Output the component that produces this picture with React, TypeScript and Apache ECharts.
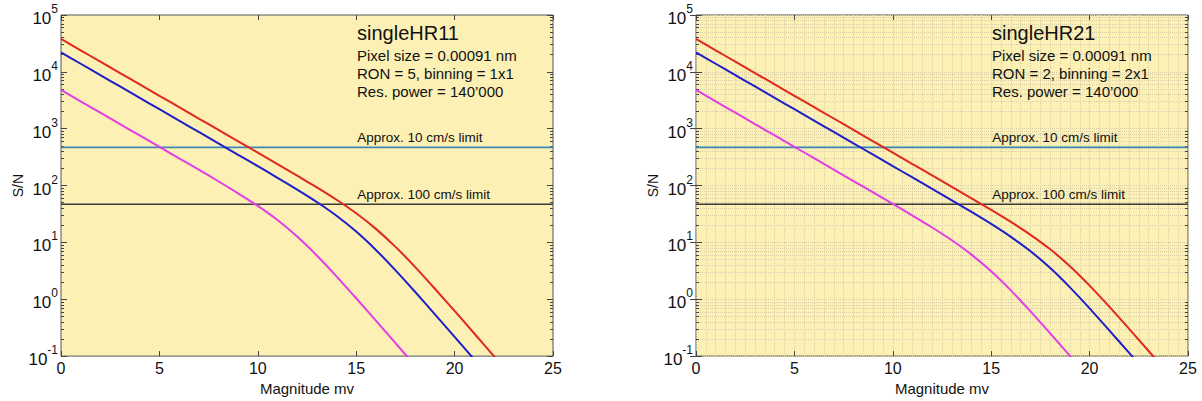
import React, { useEffect, useRef } from "react";
import * as echarts from "echarts";

// Magnitude grid (x values) used for every curve
const magnitudes = [0, 1, 2, 3, 4, 5, 6, 7, 8, 9, 10, 11, 12, 13, 14, 15, 16, 17, 18, 19, 20, 21, 22, 23, 24];

// singleHR11 (left panel) S/N values
const hr11Red = [37900, 23900, 15100, 9530, 6010, 3795, 2394, 1510, 953, 601, 379, 238, 149, 92.7, 56.2, 32.5, 17.3, 8.34, 3.68, 1.53, 0.623, 0.25, 0.0999, 0.0398];
const hr11Blue = [22000, 13880, 8760, 5530, 3490, 2200, 1388, 876, 552, 348, 219, 137, 84.9, 51.3, 29.4, 15.5, 7.37, 3.22, 1.34, 0.543, 0.218, 0.0869, 0.0346];
const hr11Magenta = [4800, 3030, 1909, 1204, 760, 479, 302, 190, 119, 73.1, 43.8, 24.7, 12.7, 5.89, 2.53, 1.04, 0.422, 0.169, 0.0674];

// singleHR21 (right panel)
const hr21Red = [37900, 23900, 15100, 9530, 6010, 3795, 2394, 1511, 953, 601, 379, 239, 151, 95.0, 59.7, 37.3, 22.9, 13.6, 7.55, 3.81, 1.74, 0.742, 0.304, 0.123, 0.0491];
const hr21Blue = [22000, 13880, 8760, 5530, 3490, 2200, 1388, 876, 553, 349, 220, 139, 87.3, 54.9, 34.3, 21.1, 12.5, 6.98, 3.54, 1.62, 0.693, 0.284, 0.115, 0.0459];
const hr21Magenta = [4800, 3030, 1910, 1205, 760, 480, 303, 191, 120, 75.8, 47.6, 29.7, 18.3, 10.9, 6.1, 3.1, 1.43, 0.611, 0.251, 0.101, 0.0405];

// Horizontal precision limits
const limitLevels = [470, 47];
const limitLabels = ["Approx. 10 cm/s limit", "Approx. 100 cm/s limit"];
const limitColors = ["#3f87b5", "#3a3a3a"];
const limitLabelMag = 15.05;
const magRange = [0, 25];

// Panel annotations
const panelTitles = ["singleHR11", "singleHR21"];
const panelNotes = [
  ["Pixel size = 0.00091 nm", "RON = 5, binning = 1x1", "Res. power = 140\u2019000"],
  ["Pixel size = 0.00091 nm", "RON = 2, binning = 2x1", "Res. power = 140\u2019000"],
];

// Axis tick values
const majorTicks = [0.1, 1, 10, 100, 1000, 10000, 100000];
const minorTicks: number[] = [];
for (let e = -1; e < 5; e++) {
  for (let d = 2; d <= 9; d++) minorTicks.push(Number((d * Math.pow(10, e)).toPrecision(3)));
}
const allTicks = [...majorTicks, ...minorTicks].sort((a, b) => a - b);

const FONT = "'Liberation Sans', Arial, Helvetica, sans-serif";
const TICK = "#444";
const BG = "#FCF0B4";
const GRID_DOT = "#d9d0a9";

const grids = [
  { left: 61, top: 15, width: 492, height: 349 },
  { left: 696, top: 15, width: 492, height: 349 },
];
const textX = [357, 992];

function pairs(ys: number[]) {
  return ys.map((y, i) => [magnitudes[i], y]);
}

function yFormatter(v: number) {
  const e = Math.round(Math.log10(v));
  return `{b|10}{s|${e}}`;
}

function makeYAxes(gridIndex: number) {
  const base: any = {
    type: "log",
    logBase: 10,
    min: 0.1,
    max: 100000,
    gridIndex,
    axisLine: { show: false },
    splitLine: { show: false },
    axisLabel: { show: false },
  };
  return [
    {
      ...base,
      position: "left",
      axisTick: { inside: true, length: 6, lineStyle: { color: TICK }, customValues: majorTicks },
      axisLabel: {
        show: true,
        customValues: majorTicks,
        formatter: yFormatter,
        margin: 3,
        fontSize: 17,
        fontFamily: FONT,
        color: "#111",
        rich: {
          b: { fontSize: 17, fontFamily: FONT, color: "#111", lineHeight: 24, verticalAlign: "bottom" },
          s: { fontSize: 12, fontFamily: FONT, color: "#111", lineHeight: 13, verticalAlign: "top" },
        },
      },
      name: "S/N",
      nameLocation: "middle",
      nameGap: 36,
      nameTextStyle: { fontSize: 14, fontFamily: FONT, color: "#111" },
    },
    {
      ...base,
      position: "left",
      axisTick: { inside: true, length: 3, lineStyle: { color: TICK }, customValues: minorTicks },
    },
    {
      ...base,
      position: "right",
      axisTick: { inside: true, length: 6, lineStyle: { color: TICK }, customValues: majorTicks },
    },
    {
      ...base,
      position: "right",
      axisTick: { inside: true, length: 3, lineStyle: { color: TICK }, customValues: minorTicks },
    },
  ];
}

function makeXAxes(gridIndex: number) {
  return [
    {
      type: "value",
      gridIndex,
      min: magRange[0],
      max: magRange[1],
      interval: 5,
      position: "bottom",
      axisLine: { show: false },
      axisTick: { inside: true, length: 5, lineStyle: { color: TICK } },
      axisLabel: { fontSize: 16, fontFamily: FONT, color: "#111", margin: 4 },
      splitLine: { show: false },
      name: "Magnitude mv",
      nameLocation: "middle",
      nameGap: 20,
      nameTextStyle: { fontSize: 15, fontFamily: FONT, color: "#111" },
    },
    {
      type: "value",
      gridIndex,
      min: magRange[0],
      max: magRange[1],
      interval: 5,
      position: "top",
      axisLine: { show: false },
      axisTick: { inside: true, length: 5, lineStyle: { color: TICK } },
      axisLabel: { show: false },
      splitLine: { show: false },
    },
  ];
}

function curve(name: string, data: number[], color: string, xIdx: number, yIdx: number) {
  return {
    type: "line",
    name,
    xAxisIndex: xIdx,
    yAxisIndex: yIdx,
    data: pairs(data),
    showSymbol: false,
    symbol: "none",
    smooth: 0.2,
    clip: true,
    lineStyle: { color, width: 2 },
    z: 5,
  };
}

function limitSeries(i: number, xIdx: number, yIdx: number) {
  return {
    type: "line",
    name: limitLabels[i],
    xAxisIndex: xIdx,
    yAxisIndex: yIdx,
    data: [
      [magRange[0], limitLevels[i]],
      [magRange[1], limitLevels[i]],
    ],
    showSymbol: false,
    symbol: "none",
    lineStyle: { color: limitColors[i], width: 1.6 },
    z: 4,
    markPoint: {
      symbol: "circle",
      symbolSize: 0,
      data: [{ coord: [limitLabelMag, limitLevels[i]] }],
      label: {
        show: true,
        formatter: limitLabels[i],
        position: "right",
        distance: 0,
        offset: [0, -10],
        fontSize: 13.5,
        fontFamily: FONT,
        color: "#111",
      },
    },
  };
}

function buildGraphic() {
  const els: any[] = [];
  [0, 1].forEach((p) => {
    els.push({
      type: "text",
      x: textX[p],
      y: 33,
      style: { text: panelTitles[p], fontSize: 20, fontFamily: FONT, fill: "#111", verticalAlign: "middle" },
      z: 10,
    });
    const ys = [55.5, 73.5, 91.5];
    panelNotes[p].forEach((t, k) => {
      els.push({
        type: "text",
        x: textX[p],
        y: ys[k],
        style: { text: t, fontSize: 15, fontFamily: FONT, fill: "#111", verticalAlign: "middle" },
        z: 10,
      });
    });
  });
  return els;
}

export default function App() {
  const ref = useRef<HTMLDivElement>(null);
  useEffect(() => {
    if (!ref.current) return;
    const chart = echarts.init(ref.current, undefined, { renderer: "svg" });
    const xAxes: any[] = [...makeXAxes(0), ...makeXAxes(1)];
    // x minor grid for right panel (index 4)
    xAxes.push({
      type: "value",
      gridIndex: 1,
      min: magRange[0],
      max: magRange[1],
      interval: 0.5,
      position: "bottom",
      axisLine: { show: false },
      axisTick: { show: false },
      axisLabel: { show: false },
      splitLine: { show: true, lineStyle: { color: GRID_DOT, type: "dotted", width: 1 } },
    });
    const yAxes: any[] = [...makeYAxes(0), ...makeYAxes(1)];
    // y minor grid for right panel (index 8)
    yAxes.push({
      type: "log",
      logBase: 10,
      min: 0.1,
      max: 100000,
      gridIndex: 1,
      position: "left",
      axisLine: { show: false },
      axisTick: { show: false, customValues: allTicks },
      axisLabel: { show: false },
      splitLine: { show: true, lineStyle: { color: GRID_DOT, type: "dotted", width: 1 } },
    });

    const option: any = {
      animation: false,
      textStyle: { fontFamily: FONT },
      grid: grids.map((g) => ({
        ...g,
        show: true,
        backgroundColor: BG,
        borderColor: "#555",
        borderWidth: 1,
        containLabel: false,
      })),
      xAxis: xAxes,
      yAxis: yAxes,
      series: [
        limitSeries(0, 0, 0),
        limitSeries(1, 0, 0),
        curve("HR11 red", hr11Red, "#e0281c", 0, 0),
        curve("HR11 blue", hr11Blue, "#1f1fc8", 0, 0),
        curve("HR11 magenta", hr11Magenta, "#e23ee6", 0, 0),
        limitSeries(0, 2, 4),
        limitSeries(1, 2, 4),
        curve("HR21 red", hr21Red, "#e0281c", 2, 4),
        curve("HR21 blue", hr21Blue, "#1f1fc8", 2, 4),
        curve("HR21 magenta", hr21Magenta, "#e23ee6", 2, 4),
      ],
      graphic: buildGraphic(),
    };
    chart.setOption(option);
    return () => chart.dispose();
  }, []);
  return (
    <div
      ref={ref}
      style={{ position: "absolute", left: 0, top: 0, width: 1202, height: 401, background: "#fff" }}
    />
  );
}
